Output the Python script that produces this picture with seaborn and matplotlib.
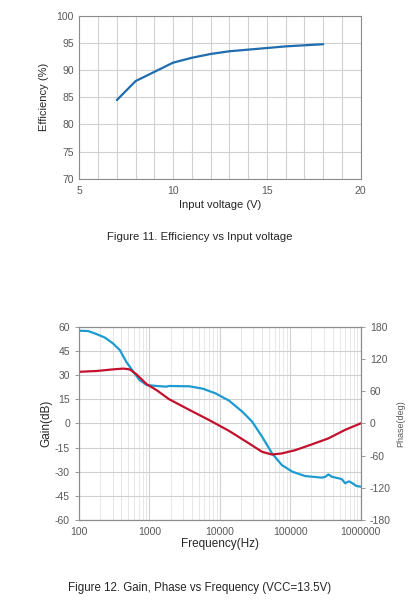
import matplotlib
matplotlib.use("Agg")
import matplotlib.pyplot as plt
import matplotlib.ticker as mticker
import seaborn as sns


# -----------------------
# Data
# -----------------------
vin = [7, 8, 9, 10, 11, 12, 13, 14, 15, 16, 17, 18]
efficiency = [84.5, 88.0, 89.7, 91.4, 92.3, 93.0, 93.5, 93.8, 94.1, 94.4, 94.6, 94.8]

gain_freq = [100, 135, 178, 234, 302, 380, 468, 589, 724, 912, 1260, 1740, 1900,
             3700, 5750, 8700, 13500, 20900, 28800, 39800, 55000, 75900, 107000,
             162000, 282000, 316000, 347000, 389000, 537000, 603000, 676000,
             741000, 871000, 1000000]
gain_db = [57.5, 57.3, 55.4, 53.2, 49.7, 45.5, 38.3, 32.1, 26.9, 23.8, 23.2, 22.8, 23.2,
           23.0, 21.5, 18.6, 14.1, 7.2, 1.0, -8.3, -18.6, -25.9, -30.0,
           -32.7, -33.7, -33.1, -31.7, -33.1, -34.6, -37.2, -36.0,
           -36.8, -38.9, -39.3]

phase_freq = [100, 178, 302, 427, 525, 646, 912, 1260, 1900, 3700, 7080, 13500,
              25700, 39800, 55000, 75900, 117000, 204000, 347000, 603000, 1000000]
phase_deg = [96, 97.5, 100.5, 102, 100.5, 92, 73, 62, 45, 25, 6, -14,
             -37, -53, -58, -56, -50, -39, -28, -12, 0]

eff_yticks = [70, 75, 80, 85, 90, 95, 100]
eff_xticks = [5, 10, 15, 20]
gain_yticks = [-60, -45, -30, -15, 0, 15, 30, 45, 60]
phase_yticks = [-180, -120, -60, 0, 60, 120, 180]
freq_ticks = [100, 1000, 10000, 100000, 1000000]


# -----------------------
# Style
# -----------------------
sns.set_style("white")
plt.rcParams["font.family"] = ["Liberation Sans", "DejaVu Sans"]
plt.rcParams["axes.unicode_minus"] = False

TICK_GRAY = "#595959"
SPINE_GRAY = "#8c8c8c"
GRID_GRAY = "#d0d0d0"

fig = plt.figure(figsize=(4.14, 6.0), dpi=100)


def style_axes(ax):
    for side in ["left", "right", "top", "bottom"]:
        ax.spines[side].set_color(SPINE_GRAY)
        ax.spines[side].set_linewidth(0.8)
    ax.tick_params(colors=SPINE_GRAY, labelsize=7.5, length=3, width=0.6,
                   labelcolor=TICK_GRAY)


# -----------------------
# Figure 11: Efficiency
# -----------------------
ax1 = fig.add_axes([0.1916, 0.7022, 0.6797, 0.2711])

sns.lineplot(x=vin, y=efficiency, ax=ax1, color="#1f6cae", linewidth=1.6)

ax1.set_xlim(5, 20)
ax1.set_ylim(70, 100)
ax1.set_xticks(eff_xticks)
ax1.set_yticks(eff_yticks)
ax1.xaxis.set_minor_locator(mticker.MultipleLocator(1))
ax1.grid(True, which="both", axis="x", color=GRID_GRAY, linewidth=0.8)
ax1.grid(True, which="major", axis="y", color=GRID_GRAY, linewidth=0.8)
ax1.set_axisbelow(True)
style_axes(ax1)
ax1.tick_params(which="both", length=0)
ax1.tick_params(axis="x", pad=5)
ax1.tick_params(axis="y", pad=4)

ax1.set_xlabel("Input voltage (V)", fontsize=8, labelpad=3)
ax1.set_ylabel("Efficiency (%)", fontsize=8, labelpad=5)

fig.text(0.483, 0.605, "Figure 11. Efficiency vs Input voltage",
         ha="center", va="center", fontsize=8.2)


# -----------------------
# Figure 12: Gain / Phase
# -----------------------
ax2 = fig.add_axes([0.1908, 0.1333, 0.6805, 0.3222])

sns.lineplot(x=gain_freq, y=gain_db, ax=ax2, color="#1d9bd1", linewidth=1.6)

ax2.set_xscale("log")
ax2.set_xlim(100, 1000000)
ax2.set_ylim(-60, 60)
ax2.set_xticks(freq_ticks)
ax2.set_xticklabels([str(f) for f in freq_ticks])
ax2.set_yticks(gain_yticks)
ax2.xaxis.set_minor_locator(mticker.LogLocator(base=10, subs=range(2, 10)))
ax2.xaxis.set_minor_formatter(mticker.NullFormatter())
ax2.grid(True, which="major", color=GRID_GRAY, linewidth=0.8)
ax2.grid(True, which="minor", axis="x", color="#e3e3e3", linewidth=0.6)
ax2.set_axisbelow(True)
style_axes(ax2)
ax2.tick_params(axis="x", which="both", length=0, pad=5)
ax2.tick_params(axis="y", length=3)

ax2.set_xlabel("Frequency(Hz)", fontsize=8.5, labelpad=1)
ax2.set_ylabel("Gain(dB)", fontsize=8.5, labelpad=2)

ax3 = ax2.twinx()
sns.lineplot(x=phase_freq, y=phase_deg, ax=ax3, color="#c3112d", linewidth=1.6)
ax3.set_ylim(-180, 180)
ax3.set_yticks(phase_yticks)
style_axes(ax3)
ax3.tick_params(axis="y", length=3)
ax3.set_ylabel("Phase(deg)", fontsize=6.5, color=TICK_GRAY, labelpad=4)

fig.text(0.483, 0.020, "Figure 12. Gain, Phase vs Frequency (VCC=13.5V)",
         ha="center", va="center", fontsize=8.3)

plt.savefig("out.png", dpi=100)
